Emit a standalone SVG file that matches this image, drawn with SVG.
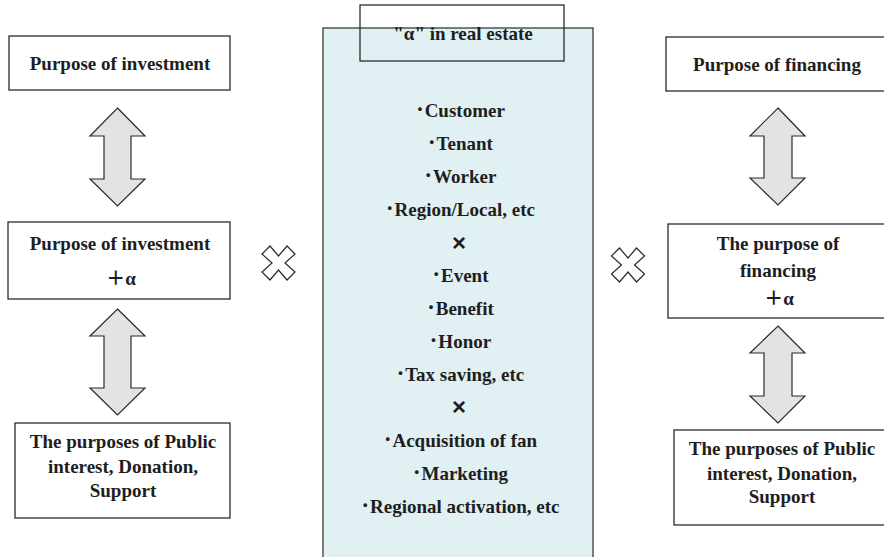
<svg xmlns="http://www.w3.org/2000/svg" width="884" height="557" viewBox="0 0 884 557">
<style>
.box{fill:#fff;stroke:#2b2b2b;stroke-width:1.3}
.t{font-family:"Liberation Serif","Noto Sans CJK JP",serif;font-weight:bold;font-size:19px;fill:#1e1e1e;text-anchor:middle}
.x{font-family:"Liberation Sans","DejaVu Sans",sans-serif;font-weight:bold;font-size:24px;fill:#1e1e1e;text-anchor:middle}
.arr{fill:#e3e3e3;stroke:#2b2b2b;stroke-width:1.2;stroke-linejoin:miter}
.cross{fill:#fff;stroke:#2b2b2b;stroke-width:1.2}
</style>
<rect width="884" height="557" fill="#fff"/>

<g id="center">
  <rect x="323" y="28" width="270" height="540" fill="#e1f0f2" stroke="#3a3a3a" stroke-width="1.3"/>
  <rect x="360" y="5" width="204" height="56" fill="none" stroke="#2b2b2b" stroke-width="1.3"/>
  <text class="t" x="463" y="40">"α" in real estate</text>
  <text class="t" x="460" y="117">･Customer</text>
  <text class="t" x="460" y="150">･Tenant</text>
  <text class="t" x="460" y="183">･Worker</text>
  <text class="t" x="460" y="216">･Region/Local, etc</text>
  <text class="x" x="459" y="251">×</text>
  <text class="t" x="460" y="282">･Event</text>
  <text class="t" x="460" y="315">･Benefit</text>
  <text class="t" x="460" y="348">･Honor</text>
  <text class="t" x="460" y="381">･Tax saving, etc</text>
  <text class="x" x="459" y="415">×</text>
  <text class="t" x="460" y="447">･Acquisition of fan</text>
  <text class="t" x="460" y="480">･Marketing</text>
  <text class="t" x="460" y="513">･Regional activation, etc</text>
</g>

<g id="inv1">
  <rect class="box" x="9" y="36" width="221" height="54"/>
  <text class="t" x="120" y="70">Purpose of investment</text>
</g>
<g id="inv2">
  <rect class="box" x="8" y="222" width="222" height="77"/>
  <text class="t" x="120" y="250">Purpose of investment</text>
  <text class="t" x="121" y="285">＋α</text>
</g>
<g id="inv3">
  <rect class="box" x="15" y="423" width="215" height="95"/>
  <text class="t" x="123" y="448">The purposes of Public</text>
  <text class="t" x="123" y="473">interest, Donation,</text>
  <text class="t" x="123" y="497">Support</text>
</g>

<g id="fin1">
  <rect class="box" x="666" y="37" width="224" height="54"/>
  <text class="t" x="777" y="71">Purpose of financing</text>
</g>
<g id="fin2">
  <rect class="box" x="668" y="224" width="222" height="94"/>
  <text class="t" x="778" y="250">The purpose of</text>
  <text class="t" x="778" y="277">financing</text>
  <text class="t" x="779" y="305">＋α</text>
</g>
<g id="fin3">
  <rect class="box" x="674" y="430" width="216" height="95"/>
  <text class="t" x="782" y="455">The purposes of Public</text>
  <text class="t" x="782" y="480">interest, Donation,</text>
  <text class="t" x="782" y="503">Support</text>
</g>

<g id="crossL">
  <polygon class="cross" transform="translate(278.5,263)" points="-8.5,-17 0,-7 8.5,-17 16.5,-9 6.5,0 16.5,9 8.5,17 0,7 -8.5,17 -16.5,9 -6.5,0 -16.5,-9"/>
</g>
<g id="crossR">
  <polygon class="cross" transform="translate(628,265)" points="-8.5,-17 0,-7 8.5,-17 16.5,-9 6.5,0 16.5,9 8.5,17 0,7 -8.5,17 -16.5,9 -6.5,0 -16.5,-9"/>
</g>

<g id="connectors">
  <polygon class="arr" points="117.5,108 145,136 131,136 131,179 145,179 117.5,206 90,179 104,179 104,136 90,136"/>
  <polygon class="arr" points="117.5,309 145,336 131,336 131,388 145,388 117.5,415 90,388 104,388 104,336 90,336"/>
  <polygon class="arr" points="778,108 805,136 792,136 792,178 805,178 778,205 750,178 764,178 764,136 750,136"/>
  <polygon class="arr" points="778,326 805,353 792,353 792,396 805,396 778,423 750,396 764,396 764,353 750,353"/>
</g>
</svg>
